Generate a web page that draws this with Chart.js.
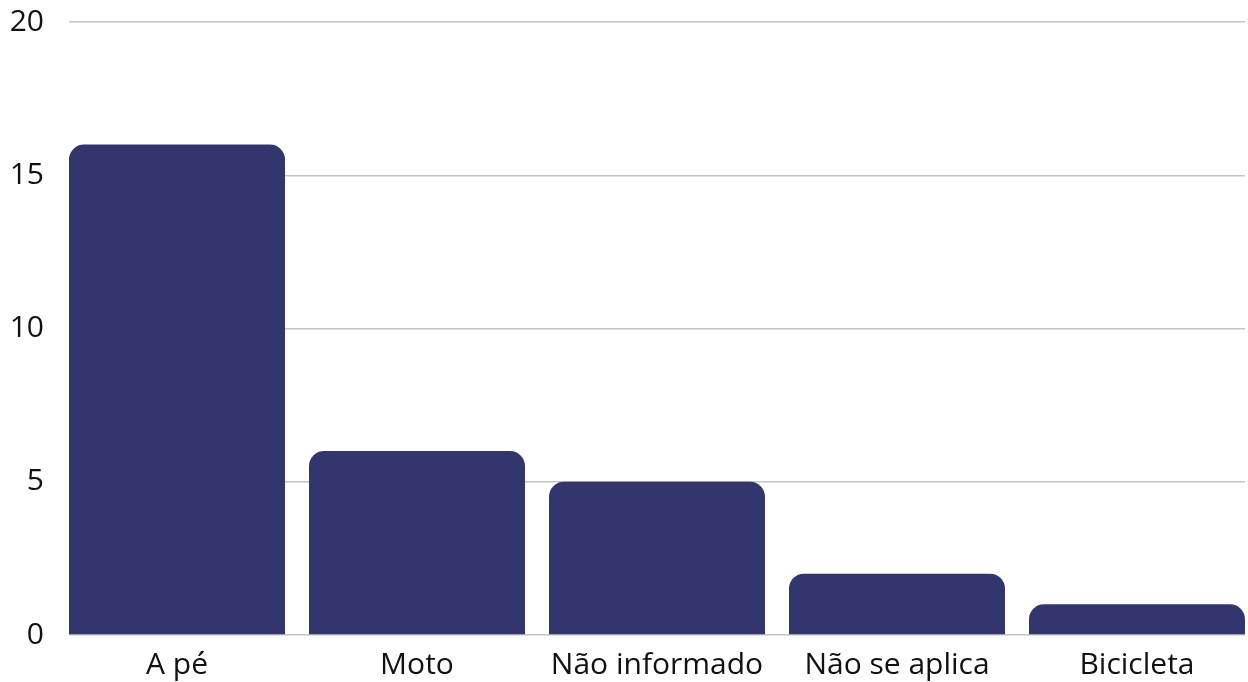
<!DOCTYPE html>
<html>
<head>
<meta charset="utf-8">
<script src="https://cdn.jsdelivr.net/npm/chart.js@4"></script>
<style>
html,body{margin:0;padding:0;background:#fff;}
#wrap{width:1248px;height:682px;position:relative;}
</style>
</head>
<body>
<div id="wrap"><canvas id="c"></canvas></div>
<script>
const categories = ["A pé", "Moto", "Não informado", "Não se aplica", "Bicicleta"];
const values = [16, 6, 5, 2, 1];
const yTicks = [0, 5, 10, 15, 20];

const points = categories.map((c, i) => ({x: i, y: values[i]}));

new Chart(document.getElementById('c'), {
  type: 'bar',
  data: {
    datasets: [{
      data: points,
      backgroundColor: '#32366c',
      borderRadius: 15,
      borderSkipped: 'start',
      categoryPercentage: 1,
      barPercentage: 0.9
    }]
  },
  options: {
    responsive: true,
    maintainAspectRatio: false,
    animation: false,
    layout: {padding: {left: 11, right: 3, top: 22, bottom: 0}},
    plugins: {legend: {display: false}, tooltip: {enabled: false}},
    scales: {
      x: {
        type: 'linear',
        offset: false,
        min: -0.45,
        max: categories.length - 0.55,
        afterBuildTicks: (scale) => { scale.ticks = categories.map((c, i) => ({value: i})); },
        afterFit: (scale) => { scale.height = 47; scale.paddingLeft = 0; scale.paddingRight = 0; },
        grid: {display: false, drawTicks: false},
        border: {display: false},
        ticks: {
          autoSkip: false,
          maxRotation: 0,
          padding: 12,
          color: '#111',
          font: {family: 'Open Sans', size: 30},
          callback: (v) => categories[v]
        }
      },
      y: {
        min: 0,
        max: 20,
        afterBuildTicks: (scale) => { scale.ticks = yTicks.map(v => ({value: v})); },
        afterFit: (scale) => { scale.width = 58; scale.paddingTop = 0; scale.paddingBottom = 0; },
        grid: {color: '#c4c4c4', lineWidth: 1.5, drawTicks: false},
        border: {display: false},
        ticks: {
          padding: 25,
          color: '#111',
          font: {family: 'Open Sans', size: 30}
        }
      }
    }
  }
});
</script>
</body>
</html>
